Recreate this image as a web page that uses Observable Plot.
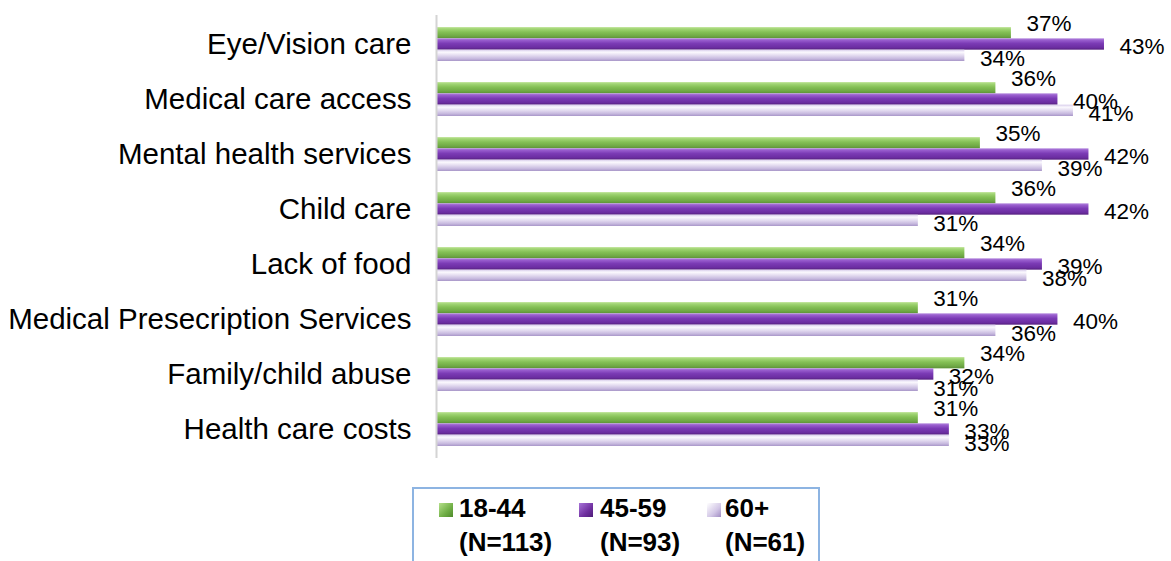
<!DOCTYPE html>
<html>
<head>
<meta charset="utf-8">
<script src="https://cdn.jsdelivr.net/npm/d3@7"></script>
<script src="https://cdn.jsdelivr.net/npm/@observablehq/plot@0.6"></script>
<style>
  html, body { margin: 0; padding: 0; background: #fff; }
  #wrap { position: relative; width: 1171px; height: 561px; overflow: hidden; font-family: "Liberation Sans", Arial, sans-serif; }
  #legend { position: absolute; left: 412px; top: 487px; width: 408px; height: 100px; border: 2px solid #8db4e2; box-sizing: border-box; }
  .lg-item { position: absolute; font-weight: bold; font-size: 26px; line-height: 34px; color: #000; white-space: nowrap; }
  .lg-sw { position: absolute; width: 14px; height: 14px; box-sizing: border-box; }
</style>
</head>
<body>
<div id="wrap"></div>
<script>
// ---- data ----
const categories = [
  "Eye/Vision care",
  "Medical care access",
  "Mental health services",
  "Child care",
  "Lack of food",
  "Medical Presecription Services",
  "Family/child abuse",
  "Health care costs"
];
const series = ["18-44", "45-59", "60+"];
const seriesN = ["(N=113)", "(N=93)", "(N=61)"];
const values18_44 = [37, 36, 35, 36, 34, 31, 34, 31];
const values45_59 = [43, 40, 42, 42, 39, 40, 32, 33];
const values60plus = [34, 41, 39, 31, 38, 36, 31, 33];

const seriesValues = [values18_44, values45_59, values60plus];
const gradIds = ["gGreen", "gPurple", "gLav"];
const swatchBg = [
  "linear-gradient(135deg,#b5e08a,#6fae45 60%,#4f8a2c)",
  "linear-gradient(135deg,#a874d8,#7030a0 60%,#4e1d78)",
  "linear-gradient(135deg,#ffffff,#d2c6e6 60%,#a08cc2)"
];

const rows = [];
series.forEach((s, si) => {
  categories.forEach((c, ci) => {
    rows.push({category: c, series: s, si, value: seriesValues[si][ci]});
  });
});

const bandInset = 11.33;
const labelDy = [-21, 2, 14];

const marks = [];
series.forEach((s, si) => {
  const data = rows.filter(d => d.si === si);
  marks.push(Plot.barX(data, {
    y: "category",
    x: "value",
    fill: `url(#${gradIds[si]})`,
    insetTop: si * bandInset,
    insetBottom: (2 - si) * bandInset
  }));
});
marks.push(Plot.ruleX([0], {stroke: "#d4d4d4", strokeWidth: 2, dx: -1}));
series.forEach((s, si) => {
  const data = rows.filter(d => d.si === si);
  marks.push(Plot.text(data, {
    y: "category",
    x: "value",
    text: d => d.value + "%",
    textAnchor: "start",
    dx: 15,
    dy: labelDy[si],
    fontSize: 22.5,
    fill: "#000"
  }));
});

const svg = Plot.plot({
  width: 1171,
  height: 470,
  marginLeft: 437,
  marginRight: 36,
  marginTop: 15,
  marginBottom: 12,
  style: {fontFamily: "'Liberation Sans', Arial, sans-serif", fontSize: "29.5px", color: "#000", background: "transparent", overflow: "visible"},
  x: {domain: [0, 45], axis: null},
  y: {domain: categories, paddingInner: 0.384, paddingOuter: 0.208, tickSize: 0, tickPadding: 26, label: null},
  marks
});

svg.insertAdjacentHTML("afterbegin", `
<defs>
  <linearGradient id="gGreen" x1="0" y1="0" x2="0" y2="1">
    <stop offset="0" stop-color="#c9e8a6"/>
    <stop offset="0.15" stop-color="#a3d676"/>
    <stop offset="0.45" stop-color="#84c055"/>
    <stop offset="0.8" stop-color="#6fa845"/>
    <stop offset="1" stop-color="#5b9136"/>
  </linearGradient>
  <linearGradient id="gPurple" x1="0" y1="0" x2="0" y2="1">
    <stop offset="0" stop-color="#b58ade"/>
    <stop offset="0.15" stop-color="#9a5fcf"/>
    <stop offset="0.45" stop-color="#7b3bb5"/>
    <stop offset="0.8" stop-color="#6c2ea2"/>
    <stop offset="1" stop-color="#56207f"/>
  </linearGradient>
  <linearGradient id="gLav" x1="0" y1="0" x2="0" y2="1">
    <stop offset="0" stop-color="#d6cbea"/>
    <stop offset="0.22" stop-color="#fbf9fe"/>
    <stop offset="0.5" stop-color="#e3dbf0"/>
    <stop offset="0.8" stop-color="#c6b8de"/>
    <stop offset="1" stop-color="#a896c8"/>
  </linearGradient>
</defs>`);

const wrap = document.getElementById("wrap");
wrap.appendChild(svg);

// legend
const legend = document.createElement("div");
legend.id = "legend";
wrap.appendChild(legend);
const swX = [439, 579, 707];
const txX = [459, 600, 725];
series.forEach((s, si) => {
  const sw = document.createElement("div");
  sw.className = "lg-sw";
  sw.style.left = swX[si] + "px";
  sw.style.top = "503px";
  sw.style.background = swatchBg[si];
  wrap.appendChild(sw);
  const t = document.createElement("div");
  t.className = "lg-item";
  t.style.left = txX[si] + "px";
  t.style.top = "491px";
  t.innerHTML = s + "<br>" + seriesN[si];
  wrap.appendChild(t);
});
</script>
</body>
</html>
